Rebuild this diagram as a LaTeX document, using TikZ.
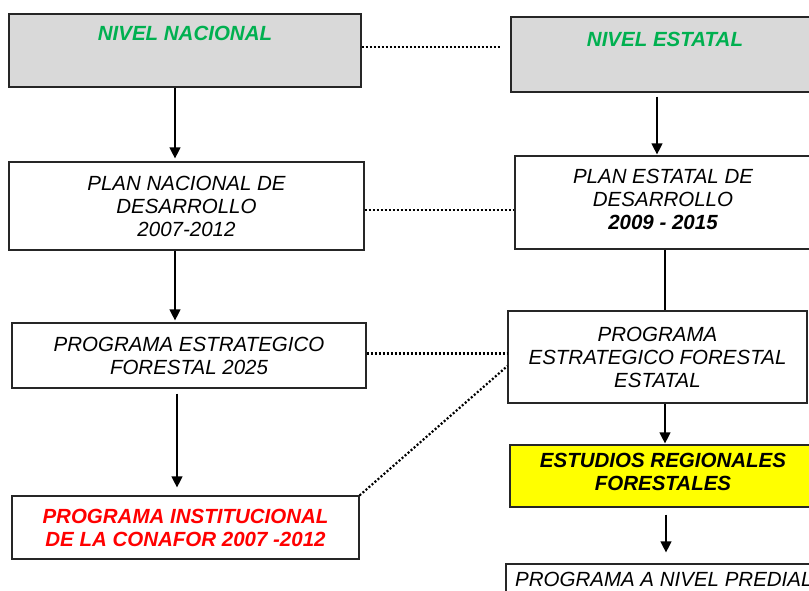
\documentclass[tikz,border=0pt]{standalone}
\usepackage{fontspec}
\setmainfont{Liberation Sans}
\usetikzlibrary{arrows.meta}
\definecolor{boxgray}{HTML}{D9D9D9}
\definecolor{nivgreen}{HTML}{00B050}
\definecolor{progred}{HTML}{FF0000}
\definecolor{estyellow}{HTML}{FFFF00}
\begin{document}
\begin{tikzpicture}[x=1pt,y=-1pt,
  box/.style={draw=black!85, line width=1.2pt, rectangle, inner sep=0pt, align=center,
              font=\fontsize{20.5}{23}\selectfont\itshape},
  lab/.style={inner sep=0pt, align=center, font=\fontsize{20.5}{23}\selectfont\itshape},
  boldlab/.style={inner sep=0pt, align=center, font=\fontsize{20.5}{23}\selectfont\bfseries\itshape},
  arr/.style={-{Triangle[width=11pt,length=11pt]}, line width=1.2pt},
  plainline/.style={line width=1.2pt},
  dotline/.style={line width=2.2pt, dash pattern=on 2pt off 2pt},
]
\useasboundingbox (0,0) rectangle (809,590);
\clip (0,0) rectangle (809,590);

% left column
\node[box, fill=boxgray, minimum width=352pt, minimum height=73pt,
  label={[boldlab, text=nivgreen, anchor=north, yshift=-12.5pt]north:NIVEL NACIONAL}] (nn) at (185,50.5) {};
\node[box, minimum width=355pt, minimum height=88pt] (pn) at (186.5,206)
  {PLAN NACIONAL DE\\DESARROLLO\\2007-2012};
\node[box, minimum width=354pt, minimum height=65pt] (pe) at (189,355.5)
  {PROGRAMA ESTRATEGICO\\FORESTAL 2025};
\node[box, minimum width=347pt, minimum height=63pt, text=progred, font=\fontsize{20.5}{23}\selectfont\bfseries\itshape] (pi) at (185.5,527.5)
  {PROGRAMA INSTITUCIONAL\\DE LA CONAFOR 2007 -2012};

% right column
\node[box, fill=boxgray, minimum width=308pt, minimum height=75pt,
  label={[boldlab, text=nivgreen, anchor=north, yshift=-15.5pt]north:NIVEL ESTATAL}] (ne) at (665,54.5) {};
\node[box, minimum width=296pt, minimum height=93pt] (ped) at (663,202.5) {};
\node[lab] (pedt) at (663,199.5) {PLAN ESTATAL DE\\DESARROLLO\\\textbf{2009 - 2015}};
\node[box, minimum width=299pt, minimum height=92pt] (pef) at (657.5,357)
  {PROGRAMA\\ESTRATEGICO FORESTAL\\ESTATAL};
\node[box, fill=estyellow, minimum width=306pt, minimum height=62pt] (er) at (663,476) {};
\node[boldlab] (ert) at (663,471.5) {ESTUDIOS REGIONALES\\FORESTALES};
\node[box, minimum width=314pt, minimum height=50pt] (pnp) at (663,589) {};
\node[lab, anchor=west] (pnpt) at (515,579) {PROGRAMA A NIVEL PREDIAL};

% arrows left
\draw[arr, shorten >=3pt] ([xshift=-10pt]nn.south) -- ([xshift=-10pt]nn.south |- pn.north);
\draw[arr, shorten >=2pt] ([xshift=-11.5pt]pn.south) -- ([xshift=-11.5pt]pn.south |- pe.north);
\draw[arr, shorten <=5pt, shorten >=8pt] ([xshift=-12pt]pe.south) -- ([xshift=-12pt]pe.south |- pi.north);

% arrows right
\draw[arr, shorten <=4pt, shorten >=1pt] ([xshift=-8pt]ne.south) -- ([xshift=-8pt]ne.south |- ped.north);
\draw[plainline] ([xshift=2pt]ped.south) -- ([xshift=2pt]ped.south |- pef.north);
\draw[arr, shorten >=1pt] ([xshift=7.5pt]pef.south) -- ([xshift=7.5pt]pef.south |- er.north);
\draw[arr, shorten <=7pt, shorten >=11pt] ([xshift=3pt]er.south) -- ([xshift=3pt]er.south |- pnp.north);

% dotted links
\draw[dotline, shorten >=9pt] ([yshift=3.5pt]nn.east) -- ([yshift=3.5pt]nn.east -| ne.west);
\draw[dotline] ([yshift=-4pt]pn.east) -- ([yshift=-4pt]pn.east -| ped.west);
\draw[dotline] ([yshift=2pt]pe.east) -- ([yshift=2pt]pe.east -| pef.west);
\draw[dotline] (pi.north east) -- ([yshift=-9pt]pef.west);
\end{tikzpicture}
\end{document}
